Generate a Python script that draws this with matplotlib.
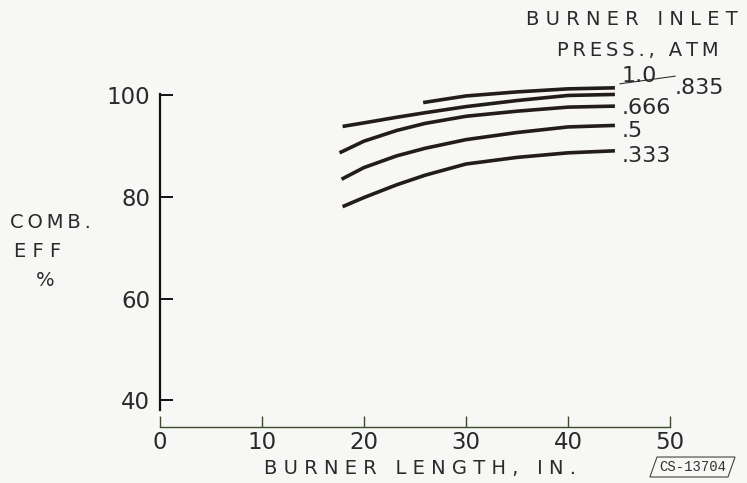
import matplotlib.pyplot as plt
from matplotlib.patches import Polygon

# burner length (in.) vs combustion efficiency (%)
x_10 = [25.8, 30.0, 35.0, 40.0, 44.6]
eff_10 = [98.6, 99.9, 100.7, 101.3, 101.5]

x_835 = [17.9, 20.0, 23.2, 26.0, 30.0, 35.0, 40.0, 44.6]
eff_835 = [93.9, 94.6, 95.7, 96.6, 97.8, 99.0, 100.0, 100.2]

x_666 = [17.6, 20.0, 23.2, 26.0, 30.0, 35.0, 40.0, 44.6]
eff_666 = [88.7, 91.0, 93.1, 94.5, 95.9, 96.9, 97.7, 97.9]

x_5 = [17.8, 20.0, 23.2, 26.0, 30.0, 35.0, 40.0, 44.6]
eff_5 = [83.5, 85.8, 88.1, 89.6, 91.3, 92.7, 93.8, 94.1]

x_333 = [17.9, 20.0, 23.2, 26.0, 30.0, 35.0, 40.0, 44.6]
eff_333 = [78.1, 79.9, 82.4, 84.3, 86.5, 87.8, 88.7, 89.1]

xticks = [0, 10, 20, 30, 40, 50]
yticks = [40, 60, 80, 100]

bg = '#f7f7f5'
ink = '#231c1c'
txt = '#2a2a2a'

THIN = '\u2009'


def spaced(s, sep=' '):
    # crude letter spacing, the lettering on the original is wide
    return sep.join(s)


fig = plt.figure(figsize=(7.47, 4.83), dpi=100, facecolor=bg)
ax = fig.add_axes([0.2142, 0.1159, 0.6827, 0.7075])
ax.set_facecolor(bg)

for xs, ys in [(x_10, eff_10), (x_835, eff_835), (x_666, eff_666),
               (x_5, eff_5), (x_333, eff_333)]:
    ax.plot(xs, ys, color=ink, lw=2.6, solid_capstyle='butt', clip_on=False)

ax.set_xlim(0, 50)
ax.set_ylim(34.7, 102)

ax.spines['top'].set_visible(False)
ax.spines['right'].set_visible(False)
ax.spines['left'].set_bounds(38.1, 100.3)
ax.spines['left'].set_linewidth(1.6)
ax.spines['left'].set_color('#111111')
ax.spines['bottom'].set_linewidth(1.0)
ax.spines['bottom'].set_color('#3d4a30')

ax.set_xticks(xticks)
ax.set_yticks(yticks)
ax.tick_params(axis='x', direction='in', length=8, width=1.0, color='#3d4a30',
               labelsize=16.5, pad=3, labelcolor=txt)
ax.tick_params(axis='y', direction='in', length=9, width=1.4, color='#111111',
               labelsize=16.5, pad=7, labelcolor=txt)

# curve labels
lab = dict(color=txt, fontsize=16, transform=ax.transData)
ax.text(45.3, 103.9, '1.0', ha='left', va='center', **lab)
ax.text(50.5, 101.5, '.835', ha='left', va='center', **lab)
ax.text(45.3, 97.5, '.666', ha='left', va='center', **lab)
ax.text(45.3, 93.0, '.5', ha='left', va='center', **lab)
ax.text(45.3, 88.1, '.333', ha='left', va='center', **lab)
ax.plot([45.1, 50.5], [102.3, 103.8], color='#333333', lw=0.8, clip_on=False)

fig.text(0.846, 0.959, spaced('BURNER INLET'), ha='center', va='center',
         fontsize=14, color=txt)
fig.text(0.854, 0.896, spaced('PRESS., ATM', THIN), ha='center', va='center',
         fontsize=14, color=txt)

fig.text(0.068, 0.540, spaced('COMB.', THIN), ha='center', va='center', fontsize=14, color=txt)
fig.text(0.051, 0.480, spaced('EFF'), ha='center', va='center', fontsize=14, color=txt)
fig.text(0.060, 0.420, '%', ha='center', va='center', fontsize=14, color=txt)

fig.text(0.562, 0.031, spaced('BURNER LENGTH, IN.'), ha='center', va='center',
         fontsize=14, color=txt)

# report number tag
tag = Polygon([(0.870, 0.0124), (0.9746, 0.0124), (0.984, 0.0538), (0.8795, 0.0538)],
              closed=True, transform=fig.transFigure, fill=False, ec='#444444', lw=0.8)
fig.patches.append(tag)
fig.text(0.927, 0.034, 'CS-13704', ha='center', va='center', fontsize=10,
         family='Liberation Mono', color='#333333')

fig.savefig('out.png', dpi=100, facecolor=bg)
